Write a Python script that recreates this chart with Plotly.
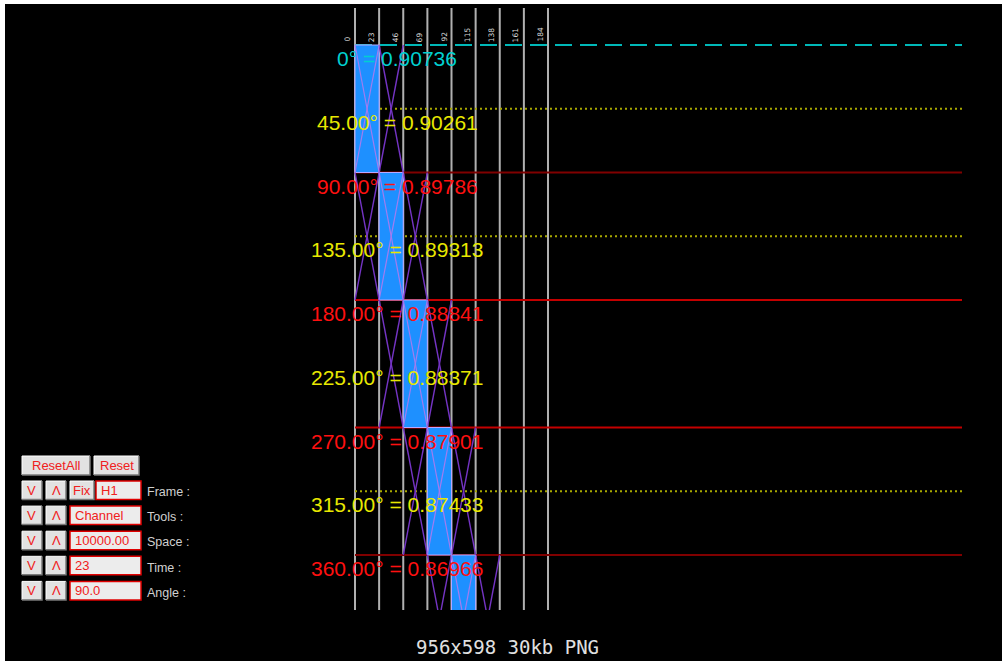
import plotly.graph_objects as go

# ---------------- data ----------------
col_times = [0, 23, 46, 69, 92, 115, 138, 161, 184]
angles = [0, 45, 90, 135, 180, 225, 270, 315, 360]
values = [0.90736, 0.90261, 0.89786, 0.89313, 0.88841, 0.88371, 0.87901, 0.87433, 0.86966]
label_colors = ["#00d0d0", "#e8e800", "#ff1010", "#e8e800", "#ff1010",
                "#e8e800", "#ff1010", "#e8e800", "#ff1010"]
bar_time_start = [0, 23, 46, 69, 92]
bar_angle_start = [0, 90, 180, 270, 360]
bar_angle_span = [90, 90, 90, 90, 90]
dotted_angles = [45, 135, 315]
dark_red_angles = [90, 360]
red_angles = [180, 270]
dashed_angles = [0]

ctrl_rows = [("H1", "Frame :"), ("Channel", "Tools :"), ("10000.00", "Space :"),
             ("23", "Time :"), ("90.0", "Angle :")]
caption = "956x598 30kb PNG"

# ---------------- geometry (pixel layout) ----------------
W, H = 1002, 661
STEP = 23
X0_PX, COL_PX = 355.0, 24.125
Y0_PX, ROW45_PX = 45.0, 63.75
TOP_PX, BOT_PX = 8.0, 610.0
LINE_END_PX = 962.0

sx = COL_PX / STEP
sy = ROW45_PX / 45.0
x_lo = -X0_PX / sx
x_hi = x_lo + W / sx
a_top = (TOP_PX - Y0_PX) / sy
a_bot = (BOT_PX - Y0_PX) / sy
line_end_t = (LINE_END_PX - X0_PX) / sx


def px(p):
    return p / W


def py(p):
    return 1 - p / H


fig = go.Figure()

# blue bars
fig.add_trace(go.Bar(
    x=[t + STEP / 2 for t in bar_time_start],
    y=bar_angle_span,
    base=bar_angle_start,
    width=STEP,
    marker=dict(color="#1e90ff", line=dict(color="#b8a8ff", width=1)),
    hoverinfo="skip",
))

# purple X crossings in the column of each bar and its neighbours
xo, yo, xi, yi = [], [], [], []
for t0, a0, span in zip(bar_time_start, bar_angle_start, bar_angle_span):
    a1 = a0 + span
    for dc in (-1, 0, 1):
        c = t0 + dc * STEP
        if c < 0:
            continue
        xs = [c, c + STEP, None, c + STEP, c, None]
        ys = [a0, a1, None, a0, a1, None]
        if dc == 0:
            xi += xs
            yi += ys
        else:
            xo += xs
            yo += ys
fig.add_trace(go.Scatter(x=xo, y=yo, mode="lines",
                         line=dict(color="#7434c4", width=1.4), hoverinfo="skip"))
fig.add_trace(go.Scatter(x=xi, y=yi, mode="lines",
                         line=dict(color="#a27cf0", width=1.2), hoverinfo="skip"))

shapes = []
# vertical grey column lines
for t in col_times:
    shapes.append(dict(type="line", xref="x", yref="y domain", x0=t, x1=t, y0=0, y1=1,
                       line=dict(color="#b0b0b0", width=2), layer="below"))
# horizontal reference lines
for a in dashed_angles:
    shapes.append(dict(type="line", xref="x", yref="y", x0=0, x1=line_end_t, y0=a, y1=a,
                       line=dict(color="#00b8b8", width=2, dash="17px,8px"), layer="below"))
for a in dotted_angles:
    shapes.append(dict(type="line", xref="x", yref="y", x0=0, x1=line_end_t, y0=a, y1=a,
                       line=dict(color="#a8a800", width=2, dash="2px,3px"), layer="below"))
for a in dark_red_angles:
    shapes.append(dict(type="line", xref="x", yref="y", x0=0, x1=line_end_t, y0=a, y1=a,
                       line=dict(color="#800000", width=2), layer="below"))
for a in red_angles:
    shapes.append(dict(type="line", xref="x", yref="y", x0=0, x1=line_end_t, y0=a, y1=a,
                       line=dict(color="#c40000", width=2), layer="below"))

annotations = []
# value labels
LABEL_T = (397 - X0_PX) / sx
for a, v, col in zip(angles, values, label_colors):
    txt = f"{a}° = {v:.5f}" if a == 0 else f"{a:.2f}° = {v:.5f}"
    annotations.append(dict(x=LABEL_T, y=a, xref="x", yref="y", text=txt, showarrow=False,
                            xanchor="center", yanchor="middle", yshift=-13.5,
                            font=dict(family="Liberation Sans, Arial", size=21, color=col)))
# tiny column labels
for t in col_times:
    annotations.append(dict(x=t, y=0, xref="x", yref="y", text=str(t), showarrow=False,
                            textangle=-90, xanchor="center", yanchor="bottom",
                            xshift=-8, yshift=1,
                            font=dict(family="DejaVu Sans", size=7.5, color="#d8d8d8")))


# ---------------- control panel (UI widgets) ----------------
def button(x0, y0, x1, y1, text):
    shapes.append(dict(type="rect", xref="paper", yref="paper", x0=px(x0), x1=px(x1),
                       y0=py(y1), y1=py(y0), fillcolor="#e2e2e2", line=dict(width=0)))
    shapes.append(dict(type="path", xref="paper", yref="paper",
                       path=f"M{px(x0)},{py(y1)} L{px(x0)},{py(y0)} L{px(x1)},{py(y0)}",
                       line=dict(color="#ffffff", width=1)))
    shapes.append(dict(type="path", xref="paper", yref="paper",
                       path=f"M{px(x0)},{py(y1)} L{px(x1)},{py(y1)} L{px(x1)},{py(y0)}",
                       line=dict(color="#7a7a7a", width=1.5)))
    annotations.append(dict(x=px((x0 + x1) / 2), y=py((y0 + y1) / 2), xref="paper", yref="paper",
                            text=text, showarrow=False, xanchor="center", yanchor="middle",
                            font=dict(family="Liberation Sans, Arial", size=13, color="#f02020")))


def textbox(x0, y0, x1, y1, text):
    shapes.append(dict(type="rect", xref="paper", yref="paper", x0=px(x0), x1=px(x1),
                       y0=py(y1), y1=py(y0), fillcolor="#ececec",
                       line=dict(color="#e00000", width=1.5)))
    annotations.append(dict(x=px(x0 + 3), y=py((y0 + y1) / 2), xref="paper", yref="paper",
                            text=text, showarrow=False, xanchor="left", yanchor="middle",
                            font=dict(family="Liberation Sans, Arial", size=13, color="#f02020")))


button(22, 456, 90, 475, "ResetAll")
button(94, 456, 139, 475, "Reset")
for i, (val, lab) in enumerate(ctrl_rows):
    y0 = 481 + i * 25.1
    y1 = y0 + 18.5
    button(22, y0, 42, y1, "V")
    button(46, y0, 66, y1, "Λ")
    if i == 0:
        button(70, y0, 94, y1, "Fix")
        textbox(96, y0, 141, y1, val)
    else:
        textbox(70, y0, 141, y1, val)
    annotations.append(dict(x=px(145), y=py((y0 + y1) / 2 + 2), xref="paper", yref="paper",
                            text=lab, showarrow=False, xanchor="left", yanchor="middle",
                            font=dict(family="Liberation Sans, Arial", size=12.5, color="#d0d0d0")))

# caption
annotations.append(dict(x=px(508), y=py(647), xref="paper", yref="paper", text=caption,
                        showarrow=False, xanchor="center", yanchor="middle",
                        font=dict(family="DejaVu Sans Mono", size=19, color="#e0e0e0")))

# white frame edges of the screenshot
shapes.append(dict(type="rect", xref="paper", yref="paper", x0=0, x1=px(5), y0=0, y1=1,
                   fillcolor="#ffffff", line=dict(width=0)))
shapes.append(dict(type="rect", xref="paper", yref="paper", x0=0, x1=1, y0=py(4), y1=1,
                   fillcolor="#ffffff", line=dict(width=0)))

fig.update_layout(
    width=W, height=H,
    margin=dict(l=0, r=0, t=0, b=0),
    paper_bgcolor="#000000", plot_bgcolor="#000000",
    showlegend=False, barmode="overlay",
    xaxis=dict(range=[x_lo, x_hi], domain=[0, 1], visible=False, fixedrange=True),
    yaxis=dict(range=[a_bot, a_top], domain=[1 - BOT_PX / H, 1 - TOP_PX / H],
               visible=False, fixedrange=True),
    shapes=shapes, annotations=annotations,
)

fig.write_html(
    "out.html",
    config={"displayModeBar": False},
    post_script="document.body.style.margin='0';document.body.style.overflow='hidden';",
)
